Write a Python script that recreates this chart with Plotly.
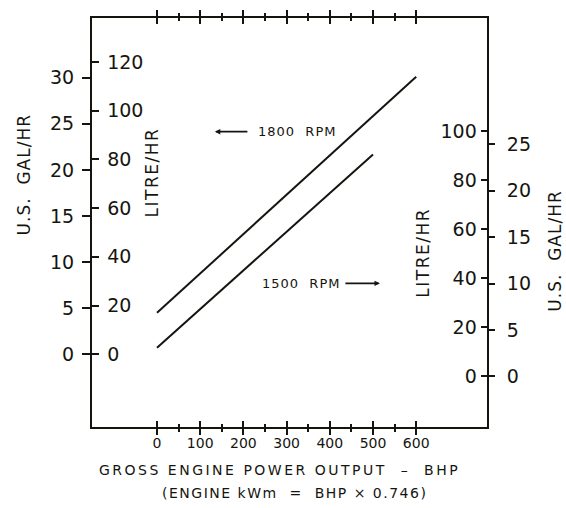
import plotly.graph_objects as go

# ---- data ----
bhp_1800 = [0, 600]
litre_1800 = [17.0, 114.0]      # read on the left LITRE/HR scale
bhp_1500 = [0, 500]
litre_1500 = [11.7, 90.4]       # read on the right LITRE/HR scale

x_ticks = [0, 100, 200, 300, 400, 500, 600]
x_minor = [50, 150, 250, 350, 450, 550]
left_litre_ticks = [0, 20, 40, 60, 80, 100, 120]
left_gal_ticks = [0, 5, 10, 15, 20, 25, 30]
right_litre_ticks = [0, 20, 40, 60, 80, 100]
right_gal_ticks = [0, 5, 10, 15, 20, 25]

L_PER_GAL = 3.785

x_range = [-150.5, 763.9]
left_litre_range = [-29.9, 138.1]
right_litre_range = [-20.6, 146.0]

INK = "#151510"
FONT = "DejaVu Sans"

fig = go.Figure()
fig.add_trace(go.Scatter(x=bhp_1800, y=litre_1800, mode="lines", xaxis="x", yaxis="y",
                         line=dict(color=INK, width=2), showlegend=False, hoverinfo="skip"))
fig.add_trace(go.Scatter(x=bhp_1500, y=litre_1500, mode="lines", xaxis="x", yaxis="y3",
                         line=dict(color=INK, width=2), showlegend=False, hoverinfo="skip"))
# empty traces so that every overlaid axis is drawn
for xa, ya in [("x2", "y"), ("x3", "y"), ("x4", "y"), ("x", "y2"), ("x", "y4")]:
    fig.add_trace(go.Scatter(x=[], y=[], xaxis=xa, yaxis=ya, mode="lines",
                             showlegend=False, hoverinfo="skip"))

common_x = dict(range=x_range, tickvals=x_ticks, showgrid=False, zeroline=False,
                tickcolor=INK, tickwidth=2, ticklen=6)
minor_in = dict(tickvals=x_minor, ticks="inside", ticklen=3, tickwidth=1.5, tickcolor=INK)
minor_out = dict(tickvals=x_minor, ticks="outside", ticklen=3, tickwidth=1.5, tickcolor=INK)

fig.update_layout(
    width=566, height=508,
    margin=dict(l=92, r=79, t=14, b=81),
    paper_bgcolor="white", plot_bgcolor="white",
    font=dict(family=FONT, color=INK),
    xaxis=dict(**common_x, side="bottom", anchor="y", ticks="outside", minor=minor_out,
               showline=True, linewidth=2, linecolor=INK, ticklabelstandoff=-4,
               tickfont=dict(size=14, family=FONT, color=INK)),
    xaxis2=dict(**common_x, overlaying="x", side="bottom", anchor="y", ticks="inside",
                minor=minor_in, showticklabels=False, showline=False),
    xaxis3=dict(**common_x, overlaying="x", side="top", anchor="y", ticks="outside",
                minor=minor_out, showticklabels=False, showline=True, linewidth=2, linecolor=INK),
    xaxis4=dict(**common_x, overlaying="x", side="top", anchor="y", ticks="inside",
                minor=minor_in, showticklabels=False, showline=False),
    yaxis=dict(range=left_litre_range, tickvals=left_litre_ticks, side="left", anchor="x",
               ticks="inside", ticklabelposition="inside", ticklen=7, tickwidth=2, tickcolor=INK,
               ticklabelstandoff=9,
               showline=True, linewidth=2, linecolor=INK, showgrid=False, zeroline=False,
               tickfont=dict(size=19, family=FONT, color=INK)),
    yaxis2=dict(range=[v / L_PER_GAL for v in left_litre_range], tickvals=left_gal_ticks,
                overlaying="y", side="left", anchor="x", ticks="outside", ticklen=9,
                ticklabelstandoff=4,
                tickwidth=2, tickcolor=INK, showline=False, showgrid=False, zeroline=False,
                tickfont=dict(size=19, family=FONT, color=INK)),
    yaxis3=dict(range=right_litre_range, tickvals=right_litre_ticks, overlaying="y",
                side="right", anchor="x", ticks="inside", ticklabelposition="inside",
                ticklen=6, tickwidth=2, tickcolor=INK, showline=True, linewidth=2,
                ticklabelstandoff=5,
                linecolor=INK, showgrid=False, zeroline=False,
                tickfont=dict(size=19, family=FONT, color=INK)),
    yaxis4=dict(range=[v / L_PER_GAL for v in right_litre_range], tickvals=right_gal_ticks,
                overlaying="y", side="right", anchor="x", ticks="outside", ticklen=7,
                tickwidth=2, tickcolor=INK, showline=False, showgrid=False, zeroline=False,
                ticklabelstandoff=8,
                tickfont=dict(size=19, family=FONT, color=INK)),
)

def sp(t, ls):
    return f'<span style="letter-spacing:{ls}px">{t}</span>'

def px(xp):
    return (xp - 92) / 395

def py(yp):
    return (427 - yp) / 413

def title(text, x, y, angle, size, ls):
    return dict(text=sp(text, ls), xref="paper", yref="paper", x=px(x), y=py(y),
                xanchor="center", yanchor="middle", textangle=angle, showarrow=False,
                font=dict(size=size, family=FONT, color=INK))

ann = [
    title("U.S.&nbsp;&nbsp;GAL/HR", 24, 173, -90, 17, 1),
    title("LITRE/HR", 152, 170, -90, 17, 1.5),
    title("LITRE/HR", 423, 251, -90, 17, 1.5),
    title("U.S.&nbsp;&nbsp;GAL/HR", 555, 250, -90, 17, 1),
    title("GROSS ENGINE POWER OUTPUT &nbsp;–&nbsp; BHP", 279, 470, 0, 14, 2.5),
    title("(ENGINE kWm &nbsp;= &nbsp;BHP × 0.746)", 294, 494, 0, 14, 1.5),
]
# series labels with arrows
ann.append(dict(text=sp("1800&nbsp;&nbsp;RPM", 1), xref="x", yref="y", x=229, y=91.4,
                xanchor="left", yanchor="middle", showarrow=False,
                font=dict(size=13, family=FONT, color=INK)))
ann.append(dict(text="", xref="x", yref="y", x=134, y=91.4, ax=34, ay=0, showarrow=True,
                arrowhead=2, arrowsize=0.6, arrowwidth=1.8, arrowcolor=INK))
ann.append(dict(text=sp("1500&nbsp;&nbsp;RPM", 1), xref="x", yref="y", x=238, y=29.1,
                xanchor="left", yanchor="middle", showarrow=False,
                font=dict(size=13, family=FONT, color=INK)))
ann.append(dict(text="", xref="x", yref="y", x=516, y=29.1, ax=-36, ay=0, showarrow=True,
                arrowhead=2, arrowsize=0.6, arrowwidth=1.8, arrowcolor=INK))
fig.update_layout(annotations=ann)

fig.write_html("out.html")
